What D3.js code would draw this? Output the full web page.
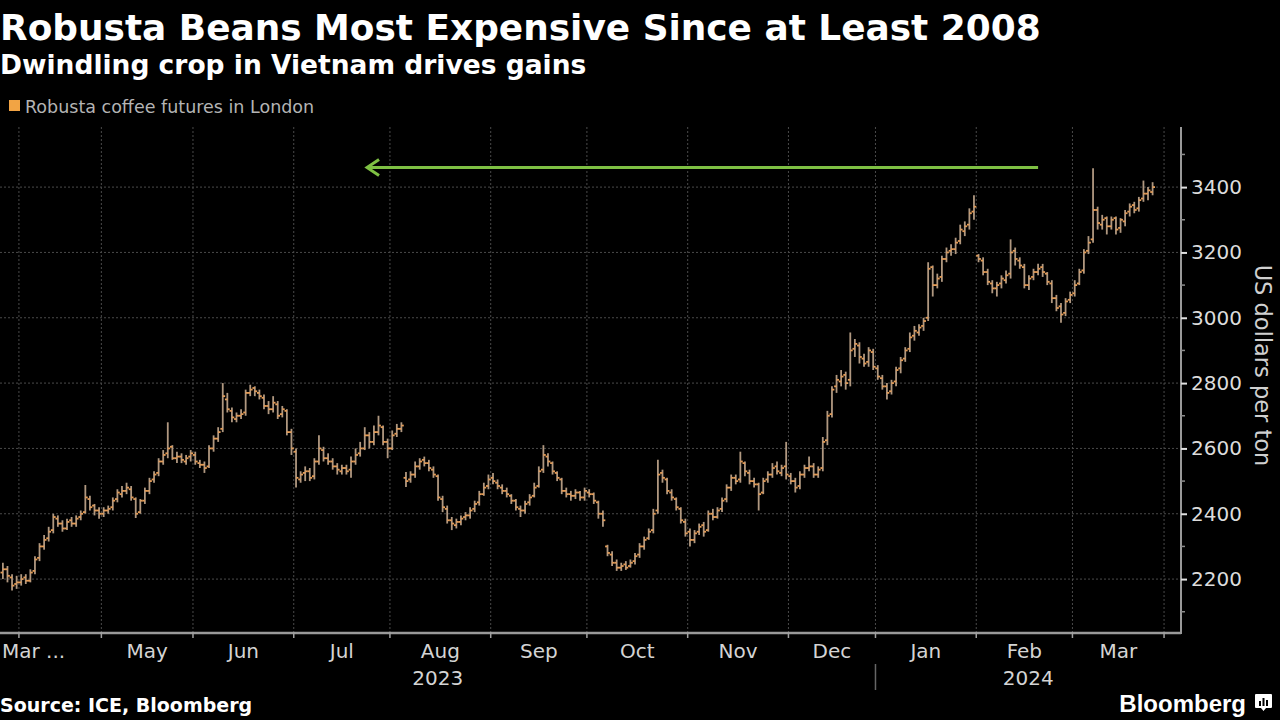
<!DOCTYPE html>
<html>
<head>
<meta charset="utf-8">
<script src="https://cdn.jsdelivr.net/npm/d3@7"></script>
<style>
  body { margin: 0; background: #000; }
  svg { display: block; }
</style>
</head>
<body>
<div id="chart"></div>
<script>

// frame constants
const FRAME_WIDTH = 1280;
const FRAME_HEIGHT = 720;
const PLOT = {left: 0, right: 1181, top: 127, bottom: 632};

// trading calendar (ICE London holidays removed)
const START_DAY = "2023-03-28";
const END_DAY = "2024-04-05";
const HOLIDAYS = ["2023-04-07", "2023-04-10", "2023-05-01", "2023-05-08", "2023-05-29",
                  "2023-08-28", "2023-12-25", "2023-12-26", "2024-01-01", "2024-03-29", "2024-04-01"];

const MONTHS = ["Jan", "Feb", "Mar", "Apr", "May", "Jun", "Jul", "Aug", "Sep", "Oct", "Nov", "Dec"];
const FIRST_LABEL = "Mar ...";
const YEARS = ["2023", "2024"];
const Y_TICKS = [2200, 2400, 2600, 2800, 3000, 3200, 3400];
const Y_MINOR = [2100, 2300, 2500, 2700, 2900, 3100, 3300, 3500];

// daily OHLC, Robusta coffee futures (USD/ton), one value per trading day
const OPEN = [
  2220,2230,2205,2185,2190,2205,2195,2225,2265,2300,
  2325,2350,2385,2370,2355,2380,2370,2390,2405,2445,
  2425,2410,2400,2410,2420,2445,2460,2470,2475,2445,
  2405,2440,2470,2505,2525,2560,2585,2605,2570,2575,
  2560,2575,2580,2555,2550,2545,2600,2630,2660,2750,
  2715,2690,2700,2710,2770,2785,2770,2755,2730,2720,
  2735,2705,2715,2650,2590,2505,2525,2530,2515,2560,
  2595,2570,2560,2545,2530,2540,2535,2560,2585,2600,
  2640,2620,2650,2665,2620,2600,2645,2660,2510,2505,
  2520,2545,2565,2555,2535,2515,2445,2415,2380,2365,
  2375,2390,2395,2415,2435,2460,2485,2510,2495,2480,
  2470,2455,2440,2415,2410,2435,2455,2485,2535,2575,
  2555,2525,2505,2470,2460,2455,2465,2450,2465,2460,
  2435,2400,2300,2275,2250,2235,2245,2240,2255,2275,
  2300,2325,2350,2410,2525,2505,2465,2445,2415,2375,
  2345,2320,2345,2365,2350,2400,2390,2415,2445,2480,
  2510,2505,2555,2525,2500,2490,2465,2505,2520,2545,
  2525,2545,2515,2500,2485,2520,2540,2545,2520,2540,
  2625,2705,2790,2805,2825,2810,2905,2915,2875,2865,
  2895,2845,2815,2790,2775,2805,2845,2875,2905,2945,
  2955,2975,3000,3155,3100,3125,3180,3205,3210,3235,
  3265,3285,3325,3190,3175,3140,3105,3090,3105,3115,
  3135,3205,3175,3155,3100,3125,3140,3155,3135,3105,
  3060,3035,3015,3055,3075,3105,3145,3205,3240,3330,
  3285,3305,3280,3305,3275,3295,3325,3345,3335,3365,
  3380,3385
];
const HIGH = [
  2250,2240,2215,2210,2215,2215,2230,2270,2310,2335,
  2360,2400,2395,2380,2385,2390,2395,2410,2488,2455,
  2430,2420,2420,2425,2450,2475,2485,2495,2485,2450,
  2445,2480,2510,2530,2570,2595,2680,2610,2590,2585,
  2580,2595,2590,2565,2560,2610,2640,2665,2800,2770,
  2725,2710,2720,2780,2795,2790,2780,2765,2745,2760,
  2745,2730,2720,2660,2600,2530,2545,2540,2570,2640,
  2605,2585,2570,2555,2550,2550,2575,2600,2620,2665,
  2650,2670,2700,2670,2630,2655,2675,2680,2528,2530,
  2560,2570,2575,2565,2545,2520,2455,2425,2390,2385,
  2395,2405,2420,2440,2470,2495,2520,2525,2505,2490,
  2480,2460,2445,2425,2440,2460,2495,2545,2610,2585,
  2560,2530,2510,2480,2470,2475,2470,2480,2475,2465,
  2440,2410,2305,2285,2260,2250,2255,2260,2280,2310,
  2330,2355,2415,2565,2535,2510,2475,2450,2420,2385,
  2355,2350,2370,2375,2410,2415,2420,2450,2490,2520,
  2520,2590,2560,2535,2510,2495,2510,2530,2555,2560,
  2550,2620,2525,2510,2530,2550,2575,2555,2545,2635,
  2715,2790,2825,2840,2835,2955,2935,2925,2890,2910,
  2905,2855,2825,2800,2810,2850,2880,2910,2955,2975,
  2980,3000,3170,3160,3135,3190,3215,3225,3245,3285,
  3295,3335,3375,3195,3185,3150,3115,3110,3130,3145,
  3240,3215,3185,3165,3130,3150,3165,3165,3140,3115,
  3070,3045,3060,3080,3115,3150,3210,3250,3458,3340,
  3315,3310,3310,3310,3305,3330,3350,3355,3370,3420,
  3400,3415
];
const LOW = [
  2200,2190,2165,2170,2180,2185,2190,2215,2255,2290,
  2315,2340,2360,2345,2350,2360,2360,2380,2400,2410,
  2395,2385,2390,2400,2410,2435,2450,2460,2440,2387,
  2400,2430,2460,2495,2515,2550,2570,2565,2555,2555,
  2550,2560,2550,2540,2525,2540,2590,2620,2650,2710,
  2680,2680,2690,2700,2760,2760,2750,2720,2705,2710,
  2690,2695,2640,2580,2480,2495,2500,2500,2505,2550,
  2560,2550,2535,2520,2520,2520,2510,2550,2575,2595,
  2600,2610,2640,2610,2570,2595,2635,2650,2482,2495,
  2510,2535,2545,2530,2510,2440,2405,2370,2350,2355,
  2365,2380,2385,2405,2425,2455,2475,2490,2475,2460,
  2450,2430,2410,2390,2400,2425,2450,2480,2525,2545,
  2520,2500,2460,2450,2440,2445,2440,2440,2450,2430,
  2385,2360,2270,2240,2225,2225,2228,2235,2245,2265,
  2290,2320,2340,2400,2495,2460,2440,2410,2370,2330,
  2300,2310,2335,2330,2345,2380,2385,2405,2435,2470,
  2490,2495,2515,2490,2480,2410,2460,2495,2510,2520,
  2515,2505,2490,2465,2475,2510,2530,2510,2510,2530,
  2610,2695,2770,2790,2780,2790,2880,2860,2850,2850,
  2840,2810,2780,2750,2765,2790,2830,2865,2895,2930,
  2945,2960,2990,3065,3090,3110,3170,3190,3195,3225,
  3250,3270,3300,3170,3130,3100,3075,3065,3090,3105,
  3120,3160,3150,3090,3085,3115,3130,3125,3100,3045,
  3020,2985,3005,3045,3065,3100,3135,3195,3230,3270,
  3270,3255,3270,3255,3260,3280,3310,3320,3325,3355,
  3360,3375
];
const CLOSE = [
  2230,2210,2180,2190,2200,2195,2220,2260,2300,2320,
  2345,2390,2370,2355,2375,2370,2385,2400,2450,2420,
  2410,2400,2410,2415,2440,2465,2470,2480,2450,2400,
  2440,2470,2500,2520,2560,2580,2600,2570,2575,2565,
  2570,2585,2560,2550,2540,2600,2630,2650,2760,2720,
  2695,2700,2705,2770,2780,2775,2760,2730,2720,2740,
  2700,2720,2650,2600,2510,2520,2530,2510,2560,2600,
  2570,2560,2545,2535,2540,2530,2560,2580,2600,2640,
  2620,2650,2670,2620,2600,2640,2660,2670,2500,2520,
  2545,2560,2555,2540,2520,2450,2420,2380,2370,2375,
  2385,2395,2410,2430,2460,2480,2505,2500,2485,2470,
  2460,2440,2420,2410,2430,2450,2480,2530,2580,2560,
  2530,2510,2470,2460,2455,2465,2450,2470,2460,2440,
  2400,2380,2280,2250,2235,2240,2235,2250,2270,2300,
  2320,2345,2400,2520,2510,2470,2450,2420,2380,2340,
  2320,2340,2360,2345,2400,2390,2410,2440,2480,2510,
  2500,2560,2530,2500,2490,2460,2500,2520,2540,2530,
  2540,2520,2500,2480,2520,2540,2545,2520,2535,2620,
  2700,2780,2810,2820,2800,2900,2920,2880,2860,2900,
  2850,2820,2790,2770,2800,2840,2870,2900,2940,2960,
  2970,2990,3150,3100,3120,3180,3200,3210,3230,3270,
  3280,3320,3340,3180,3140,3110,3090,3100,3120,3130,
  3200,3180,3160,3100,3120,3140,3150,3140,3110,3060,
  3030,3010,3050,3070,3100,3140,3200,3230,3330,3290,
  3300,3280,3300,3270,3300,3320,3340,3330,3360,3380,
  3390,3400
];

// arrow annotation: level it points back to, from / to trading-day index
const ARROW_LEVEL = 3460;
const ARROW_FROM = 226;
const ARROW_TO = 79.5;

// build the trading-day list
const fmt = d3.timeFormat("%Y-%m-%d");
const DAYS = d3.timeDay.range(d3.timeParse("%Y-%m-%d")(START_DAY), d3.timeParse("%Y-%m-%d")(END_DAY))
  .filter(d => d.getDay() !== 0 && d.getDay() !== 6 && !HOLIDAYS.includes(fmt(d)));

const bars = CLOSE.map((c, i) => ({i: i, date: DAYS[i], o: OPEN[i], h: HIGH[i], l: LOW[i], c: c}));

// month boundaries sit halfway between the last and first trading day of a month
const boundaries = [];
for (let i = 1; i < DAYS.length; i++) {
  if (DAYS[i].getMonth() !== DAYS[i - 1].getMonth()) {
    boundaries.push({pos: i - 0.5, date: DAYS[i]});
  }
}

const FRAME = d3.select("#chart")
  .append("svg")
    .attr("width", FRAME_WIDTH)
    .attr("height", FRAME_HEIGHT);

FRAME.append("rect")
  .attr("width", FRAME_WIDTH)
  .attr("height", FRAME_HEIGHT)
  .attr("fill", "#000");

// scales
const X = d3.scaleLinear()
  .domain([-0.63, 257.2])
  .range([PLOT.left, PLOT.right]);

const Y = d3.scaleLinear()
  .domain([2038, 3584])
  .range([PLOT.bottom, PLOT.top]);

// header
FRAME.append("text")
  .attr("x", 0).attr("y", 40)
  .attr("fill", "#fff")
  .attr("font-family", "DejaVu Sans, sans-serif")
  .attr("font-weight", "bold")
  .attr("font-size", 35.9)
  .text("Robusta Beans Most Expensive Since at Least 2008");

FRAME.append("text")
  .attr("x", 0).attr("y", 74)
  .attr("fill", "#fff")
  .attr("font-family", "DejaVu Sans, sans-serif")
  .attr("font-weight", "bold")
  .attr("font-size", 26.5)
  .text("Dwindling crop in Vietnam drives gains");

// legend
FRAME.append("rect")
  .attr("x", 9).attr("y", 100)
  .attr("width", 11).attr("height", 11)
  .attr("fill", "#f2a444");

FRAME.append("text")
  .attr("x", 25).attr("y", 113)
  .attr("fill", "#b4b4b4")
  .attr("font-family", "DejaVu Sans, sans-serif")
  .attr("font-size", 17.5)
  .text("Robusta coffee futures in London");

// gridlines
FRAME.append("g")
  .selectAll("line")
  .data(Y_TICKS)
  .enter()
  .append("line")
    .attr("x1", PLOT.left).attr("x2", PLOT.right)
    .attr("y1", d => Y(d)).attr("y2", d => Y(d))
    .attr("stroke", "#4a4a4a")
    .attr("stroke-width", 1)
    .attr("stroke-dasharray", "2,2");

FRAME.append("g")
  .selectAll("line")
  .data(boundaries)
  .enter()
  .append("line")
    .attr("x1", d => X(d.pos)).attr("x2", d => X(d.pos))
    .attr("y1", PLOT.top).attr("y2", PLOT.bottom)
    .attr("stroke", "#4a4a4a")
    .attr("stroke-width", 1)
    .attr("stroke-dasharray", "2,2");

// OHLC bars
const G_BARS = FRAME.append("g");

G_BARS.selectAll(".hl")
  .data(bars)
  .enter()
  .append("line")
    .attr("class", "hl")
    .attr("x1", d => X(d.i)).attr("x2", d => X(d.i))
    .attr("y1", d => Y(d.h)).attr("y2", d => Y(d.l))
    .attr("stroke", "#b09880")
    .attr("stroke-width", 1.8);

G_BARS.selectAll(".op")
  .data(bars)
  .enter()
  .append("line")
    .attr("class", "op")
    .attr("x1", d => X(d.i) - 2.4).attr("x2", d => X(d.i))
    .attr("y1", d => Y(d.o)).attr("y2", d => Y(d.o))
    .attr("stroke", "#e39c58")
    .attr("stroke-width", 1.8);

G_BARS.selectAll(".cl")
  .data(bars)
  .enter()
  .append("line")
    .attr("class", "cl")
    .attr("x1", d => X(d.i)).attr("x2", d => X(d.i) + 2.4)
    .attr("y1", d => Y(d.c)).attr("y2", d => Y(d.c))
    .attr("stroke", "#e39c58")
    .attr("stroke-width", 1.8);

// green arrow
const arrowY = Y(ARROW_LEVEL);
FRAME.append("line")
  .attr("x1", X(ARROW_FROM)).attr("x2", X(ARROW_TO) + 2)
  .attr("y1", arrowY).attr("y2", arrowY)
  .attr("stroke", "#7ec043")
  .attr("stroke-width", 3);

FRAME.append("path")
  .attr("d", "M" + (X(ARROW_TO) + 12) + "," + (arrowY - 8) +
             " L" + X(ARROW_TO) + "," + arrowY +
             " L" + (X(ARROW_TO) + 12) + "," + (arrowY + 8))
  .attr("fill", "none")
  .attr("stroke", "#7ec043")
  .attr("stroke-width", 3);

// y axis on the right
const Y_AXIS = FRAME.append("g")
  .attr("transform", "translate(" + PLOT.right + ",0)")
  .call(d3.axisRight(Y).tickValues(Y_TICKS).tickFormat(d3.format("d")).tickSize(6).tickPadding(4));

Y_AXIS.select(".domain").attr("stroke", "#999").attr("stroke-width", 2)
  .attr("d", "M0," + PLOT.top + "V" + (PLOT.bottom + 2));
Y_AXIS.selectAll(".tick line").attr("stroke", "#e0e0e0").attr("stroke-width", 2);
Y_AXIS.selectAll(".tick text")
  .attr("fill", "#dcdcdc")
  .attr("font-family", "DejaVu Sans, sans-serif")
  .attr("font-size", 20);

FRAME.append("g")
  .selectAll("line")
  .data(Y_MINOR)
  .enter()
  .append("line")
    .attr("x1", PLOT.right).attr("x2", PLOT.right + 4)
    .attr("y1", d => Y(d)).attr("y2", d => Y(d))
    .attr("stroke", "#8c8c8c")
    .attr("stroke-width", 1.5);

FRAME.append("text")
  .attr("transform", "translate(1255," + ((PLOT.top + PLOT.bottom) / 2 - 14) + ") rotate(90)")
  .attr("text-anchor", "middle")
  .attr("fill", "#d0d0d0")
  .attr("font-family", "DejaVu Sans, sans-serif")
  .attr("font-size", 22.5)
  .text("US dollars per ton");

// x axis
FRAME.append("line")
  .attr("x1", PLOT.left).attr("x2", PLOT.right)
  .attr("y1", PLOT.bottom + 1).attr("y2", PLOT.bottom + 1)
  .attr("stroke", "#999")
  .attr("stroke-width", 2.5);

FRAME.append("g")
  .selectAll("line")
  .data(boundaries)
  .enter()
  .append("line")
    .attr("x1", d => X(d.pos)).attr("x2", d => X(d.pos))
    .attr("y1", PLOT.bottom).attr("y2", PLOT.bottom + 6)
    .attr("stroke", "#a0a0a0")
    .attr("stroke-width", 1.5);

// month labels centred in each month span (the first, partial span carries FIRST_LABEL)
const spans = [];
boundaries.forEach((b, k) => {
  if (k > 0 && k < boundaries.length - 1) {
    spans.push({text: MONTHS[b.date.getMonth()], mid: (b.pos + boundaries[k + 1].pos) / 2});
  }
});

FRAME.append("g")
  .selectAll("text")
  .data(spans)
  .enter()
  .append("text")
    .attr("x", d => X(d.mid))
    .attr("y", 658)
    .attr("text-anchor", "middle")
    .attr("fill", "#d4d4d4")
    .attr("font-family", "DejaVu Sans, sans-serif")
    .attr("font-size", 20)
    .text(d => d.text);

FRAME.append("text")
  .attr("x", 2).attr("y", 658)
  .attr("fill", "#d4d4d4")
  .attr("font-family", "DejaVu Sans, sans-serif")
  .attr("font-size", 20)
  .text(FIRST_LABEL);

// year labels and divider
const yearSplit = boundaries.find(b => b.date.getMonth() === 0).pos;
FRAME.append("g")
  .selectAll("text")
  .data(YEARS)
  .enter()
  .append("text")
    .attr("x", (d, k) => k === 0 ? (PLOT.left + X(yearSplit)) / 2 : (X(yearSplit) + PLOT.right) / 2)
    .attr("y", 685)
    .attr("text-anchor", "middle")
    .attr("fill", "#d4d4d4")
    .attr("font-family", "DejaVu Sans, sans-serif")
    .attr("font-size", 20)
    .text(d => d);

FRAME.append("line")
  .attr("x1", X(yearSplit)).attr("x2", X(yearSplit))
  .attr("y1", 664).attr("y2", 690)
  .attr("stroke", "#666")
  .attr("stroke-width", 1.5);

// footer
FRAME.append("text")
  .attr("x", 0).attr("y", 712)
  .attr("fill", "#fff")
  .attr("font-family", "DejaVu Sans, sans-serif")
  .attr("font-weight", "bold")
  .attr("font-size", 19)
  .text("Source: ICE, Bloomberg");

FRAME.append("text")
  .attr("x", 1246).attr("y", 712)
  .attr("text-anchor", "end")
  .attr("fill", "#fff")
  .attr("font-family", "Liberation Sans, Arial, sans-serif")
  .attr("font-weight", "bold")
  .attr("font-size", 24)
  .text("Bloomberg");

const LOGO = FRAME.append("g").attr("transform", "translate(1255,694)");
LOGO.append("path")
  .attr("d", "M1,0 H16 Q17,0 17,1 V13 Q17,14 16,14 H11 L8.5,17 L6,14 H1 Q0,14 0,13 V1 Q0,0 1,0 Z")
  .attr("fill", "#fff");
LOGO.selectAll("rect")
  .data([5, 8, 6])
  .enter()
  .append("rect")
    .attr("x", (d, k) => 4 + k * 3.5)
    .attr("y", d => 12 - d)
    .attr("width", 2)
    .attr("height", d => d)
    .attr("fill", "#000");

</script>
</body>
</html>
